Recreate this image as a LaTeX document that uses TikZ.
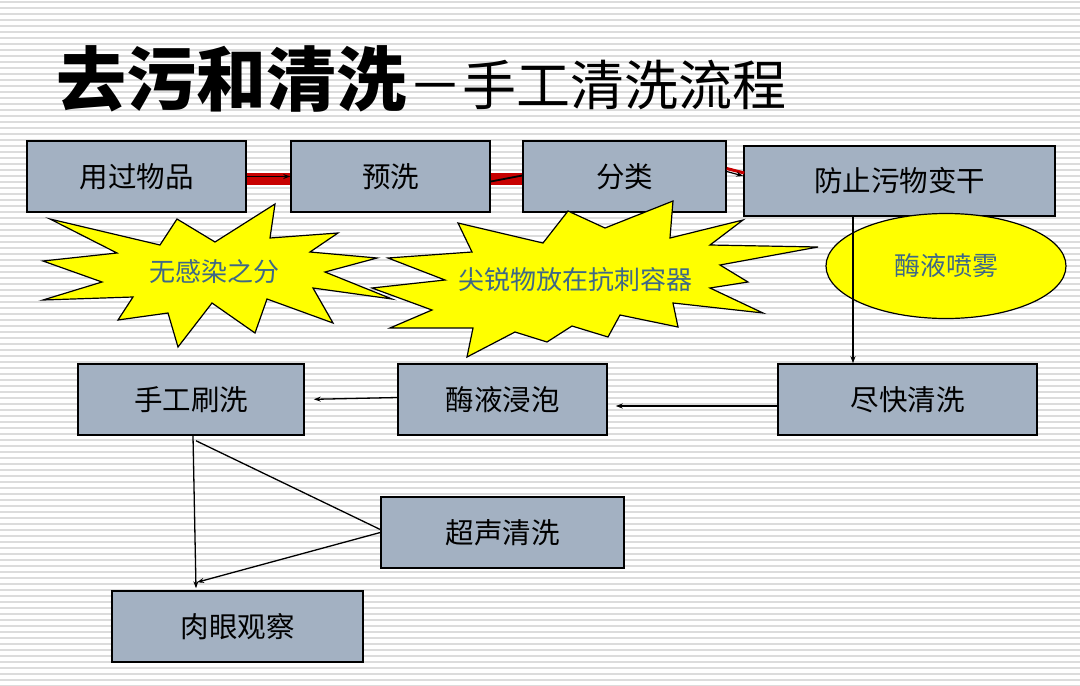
\documentclass[tikz,border=0pt]{standalone}
\usepackage{fontspec}
\newfontfamily\cjk{Noto Sans CJK SC}
\usetikzlibrary{shapes.geometric,arrows.meta}
\definecolor{boxfill}{RGB}{163,177,194}
\definecolor{stripe}{RGB}{220,220,220}
\definecolor{startext}{RGB}{62,104,134}
\definecolor{staryellow}{RGB}{255,255,0}
\definecolor{barred}{RGB}{200,0,0}
\begin{document}
\begin{tikzpicture}[x=1pt,y=-1pt,
  stepbox/.style={draw=black,line width=1.5pt,fill=boxfill,inner sep=0pt,
    font=\cjk\fontsize{28.5}{30}\selectfont,text=black},
  startxt/.style={font=\cjk\fontsize{26}{28}\selectfont,text=startext,inner sep=0pt},
  starshape/.style={fill=staryellow,draw=black,line width=1.2pt,line join=miter},
  arr/.style={draw=black,line width=1.3pt,-{Stealth[length=7pt,width=5pt]}},
  ln/.style={draw=black,line width=1.3pt},
  redbar/.style={draw=barred,line width=12pt}]
\useasboundingbox (0,0) rectangle (1080,686);
\fill[white] (0,0) rectangle (1080,686);
\foreach \y in {1,7,...,685} \fill[stripe] (0,\y) rectangle (1080,\y+2);
% title
\node[anchor=base west,inner sep=0pt,font=\cjk\bfseries\fontsize{70}{74}\selectfont] (title) at (56,105) {去污和清洗};
\node[anchor=base west,inner sep=0pt,font=\cjk\fontsize{54}{58}\selectfont] (subtitle) at ([xshift=2pt]title.base east) {－手工清洗流程};
% boxes
\node[stepbox,minimum width=219,minimum height=71] (b1) at (136.5,176.5) {用过物品};
\node[stepbox,minimum width=199,minimum height=71] (b2) at (390.5,176.5) {预洗};
\node[stepbox,minimum width=203,minimum height=71] (b3) at (624.5,176.5) {分类};
\node[stepbox,minimum width=311,minimum height=70] (b4) at (899.5,181) {防止污物变干};
\node[stepbox,minimum width=226,minimum height=71] (b5) at (191,399.5) {手工刷洗};
\node[stepbox,minimum width=209,minimum height=71] (b6) at (502.5,399.5) {酶液浸泡};
\node[stepbox,minimum width=259,minimum height=71] (b7) at (907.5,399.5) {尽快清洗};
\node[stepbox,minimum width=243,minimum height=71] (b8) at (502.5,532.5) {超声清洗};
\node[stepbox,minimum width=251,minimum height=71] (b9) at (237.5,626.5) {肉眼观察};
% red connectors
\draw[redbar] ([yshift=-2pt]b1.east) -- ([yshift=-2pt]b2.west);
\draw[arr,line width=1.5pt] ([yshift=0pt]b1.east) -- ([yshift=0pt]b2.west);
\draw[redbar] ([yshift=-2pt]b2.east) -- ([yshift=-2pt]b3.west);
\draw[ln,line width=1.8pt] ([yshift=-5pt]b2.east) -- ([yshift=1pt]b3.west);
\draw[draw=barred,line width=3pt] ([yshift=8pt]b3.east) -- ([yshift=8pt,xshift=1pt]b4.west);
\draw[arr,line width=1.2pt] ([yshift=5pt]b3.east) -- ([yshift=5pt]b4.west);
% stars
\draw[starshape] (50,219) -- (160,245) -- (177,219) -- (215,242) -- (275,204) -- (270,238)
  -- (338,233) -- (310,252) -- (377,258) -- (325,272) -- (392,299) -- (313,288)
  -- (333,323) -- (267,299) -- (255,333) -- (212,303) -- (178,347) -- (168,313)
  -- (118,320) -- (133,297) -- (43,300) -- (102,282) -- (43,261) -- (117,253) -- cycle;
\node[startxt] (s1) at (214,272) {无感染之分};
\draw[starshape] (458,223) -- (543,243) -- (568,211) -- (605,228) -- (673,201) -- (670,238)
  -- (743,220) -- (710,245) -- (818,247) -- (720,265) -- (748,282) -- (710,288)
  -- (763,313) -- (673,303) -- (678,327) -- (620,315) -- (608,337) -- (572,326)
  -- (547,342) -- (515,332) -- (467,357) -- (473,328) -- (390,328) -- (432,310)
  -- (372,288) -- (445,280) -- (388,258) -- (472,252) -- cycle;
\node[startxt] (s2) at (575,280) {尖锐物放在抗刺容器};
% ellipse
\node[ellipse,draw=black,line width=1.2pt,fill=staryellow,minimum width=240,minimum height=105,inner sep=0pt] (e1) at (946,266) {};
\node[startxt] (e1t) at (946,266) {酶液喷雾};
% arrows
\draw[arr] ([xshift=-46.5pt]b4.south) -- ([xshift=-54.5pt]b7.north);
\draw[arr,shorten >=8pt] ([yshift=-6.5pt]b7.west) -- ([yshift=-6.5pt]b6.east);
\draw[arr,shorten >=9pt] ([yshift=2pt]b6.west) -- ([yshift=0pt]b5.east);
\draw[arr] ([xshift=2pt]b5.south) -- ([xshift=-41.5pt,yshift=2pt]b9.north);
\draw[ln] ([xshift=5pt,yshift=-5pt]b5.south) -- ([yshift=3pt]b8.west);
\coordinate (c9) at ([xshift=-40.5pt,yshift=8pt]b9.north);
\draw[arr] (b8.west) -- (c9);
\end{tikzpicture}
\end{document}
